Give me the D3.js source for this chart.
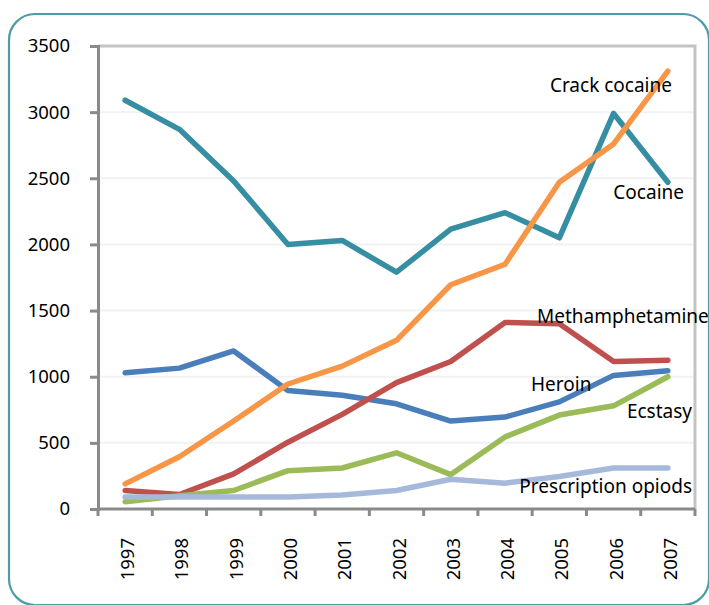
<!DOCTYPE html>
<html>
<head>
<meta charset="utf-8">
<script src="https://cdnjs.cloudflare.com/ajax/libs/d3/7.8.5/d3.min.js"></script>
<style>
  body { margin: 0; background: #fff; }
  svg text { font-family: "Noto Sans", "Open Sans", sans-serif; fill: #000; }
</style>
</head>
<body>
<div id="chart"></div>
<script>
'use strict';

// data
var years = ["1997", "1998", "1999", "2000", "2001", "2002", "2003", "2004", "2005", "2006", "2007"];
var cocaine = [3090, 2870, 2480, 2000, 2030, 1790, 2115, 2240, 2050, 2990, 2470];
var heroin = [1030, 1065, 1195, 895, 860, 795, 665, 695, 810, 1010, 1045];
var methamphetamine = [140, 110, 265, 505, 715, 955, 1115, 1410, 1400, 1115, 1125];
var ecstasy = [55, 100, 140, 290, 310, 425, 260, 545, 710, 780, 1000];
var crackCocaine = [190, 395, 665, 945, 1080, 1275, 1695, 1850, 2470, 2760, 3310];
var prescriptionOpiods = [90, 90, 90, 90, 105, 140, 225, 195, 245, 310, 310];
var yTicks = [0, 500, 1000, 1500, 2000, 2500, 3000, 3500];

var series = [
    {name: "Cocaine", values: cocaine, color: "#358ea2"},
    {name: "Heroin", values: heroin, color: "#4a7ebb"},
    {name: "Methamphetamine", values: methamphetamine, color: "#c0504d"},
    {name: "Ecstasy", values: ecstasy, color: "#9bbb59"},
    {name: "Crack cocaine", values: crackCocaine, color: "#f79646"},
    {name: "Prescription opiods", values: prescriptionOpiods, color: "#a6b9db"}
];

// where each series label sits (pixels)
var labelPos = {
    "Crack cocaine": {x: 672, y: 92, anchor: "end"},
    "Cocaine": {x: 684, y: 199, anchor: "end"},
    "Methamphetamine": {x: 537, y: 323, anchor: "start"},
    "Heroin": {x: 531, y: 391, anchor: "start"},
    "Ecstasy": {x: 692, y: 418, anchor: "end"},
    "Prescription opiods": {x: 692, y: 493, anchor: "end"}
};

var width = 709, height = 605;
var plotLeft = 98, plotRight = 695, plotTop = 46, plotBottom = 509;

var svg = d3.select("#chart").append("svg")
    .attr("width", width)
    .attr("height", height);

// rounded outer frame
svg.append("rect")
    .attr("x", 9).attr("y", 14)
    .attr("width", 700).attr("height", 591)
    .attr("rx", 26).attr("ry", 26)
    .attr("fill", "#fff")
    .attr("stroke", "#4f9ba8")
    .attr("stroke-width", 2.2);

var x = d3.scaleBand().domain(years).range([plotLeft, plotRight]).paddingInner(0).paddingOuter(0);
var y = d3.scaleLinear().domain([0, 3500]).range([plotBottom, plotTop]);

// gridlines
svg.append("g")
    .selectAll("line")
    .data(yTicks.filter(function(d) { return d > 0 && d < 3500; }))
    .enter().append("line")
    .attr("x1", plotLeft).attr("x2", plotRight)
    .attr("y1", function(d) { return y(d); })
    .attr("y2", function(d) { return y(d); })
    .attr("stroke", "#f1f2f4")
    .attr("stroke-width", 2);

// top and right border of plot area
svg.append("path")
    .attr("d", "M" + plotLeft + "," + y(3500) + "H" + plotRight + "V" + plotBottom)
    .attr("fill", "none")
    .attr("stroke", "#c4c4c4")
    .attr("stroke-width", 3);

// y axis
var yAxis = svg.append("g")
    .attr("transform", "translate(" + plotLeft + ",0)")
    .call(d3.axisLeft(y).tickValues(yTicks).tickFormat(d3.format("d")).tickSize(8).tickPadding(20));
yAxis.select(".domain").attr("stroke", "#8a8a8a").attr("stroke-width", 3);
yAxis.selectAll(".tick line").attr("stroke", "#8a8a8a").attr("stroke-width", 3);
yAxis.selectAll(".tick text")
    .attr("font-size", "18.5px")
    .attr("fill", "#000")
    .attr("font-family", "Noto Sans");

// x axis: ticks between categories
var xg = svg.append("g");
xg.append("line")
    .attr("x1", plotLeft).attr("x2", plotRight)
    .attr("y1", plotBottom).attr("y2", plotBottom)
    .attr("stroke", "#8a8a8a").attr("stroke-width", 3);
var bounds = years.map(function(d) { return x(d); }).concat([x(years[years.length - 1]) + x.bandwidth()]);
xg.selectAll("line.tk")
    .data(bounds)
    .enter().append("line")
    .attr("class", "tk")
    .attr("x1", function(d) { return d; }).attr("x2", function(d) { return d; })
    .attr("y1", plotBottom).attr("y2", plotBottom + 7)
    .attr("stroke", "#8a8a8a").attr("stroke-width", 3);
xg.selectAll("text")
    .data(years)
    .enter().append("text")
    .attr("transform", function(d) {
        return "translate(" + (x(d) + x.bandwidth() / 2 + 9) + "," + (plotBottom + 29) + ") rotate(-90)";
    })
    .attr("text-anchor", "end")
    .attr("font-size", "18.5px")
    .text(function(d) { return d; });

// lines
var line = d3.line()
    .x(function(d, i) { return x(years[i]) + x.bandwidth() / 2; })
    .y(function(d) { return y(d); });

svg.append("g")
    .selectAll("path")
    .data(series)
    .enter().append("path")
    .attr("d", function(d) { return line(d.values); })
    .attr("fill", "none")
    .attr("stroke", function(d) { return d.color; })
    .attr("stroke-width", 5.5)
    .attr("stroke-linecap", "round")
    .attr("stroke-linejoin", "round");

// series labels
svg.append("g")
    .selectAll("text")
    .data(series)
    .enter().append("text")
    .attr("x", function(d) { return labelPos[d.name].x; })
    .attr("y", function(d) { return labelPos[d.name].y; })
    .attr("text-anchor", function(d) { return labelPos[d.name].anchor; })
    .attr("font-size", "19px")
    .text(function(d) { return d.name; });
</script>
</body>
</html>
